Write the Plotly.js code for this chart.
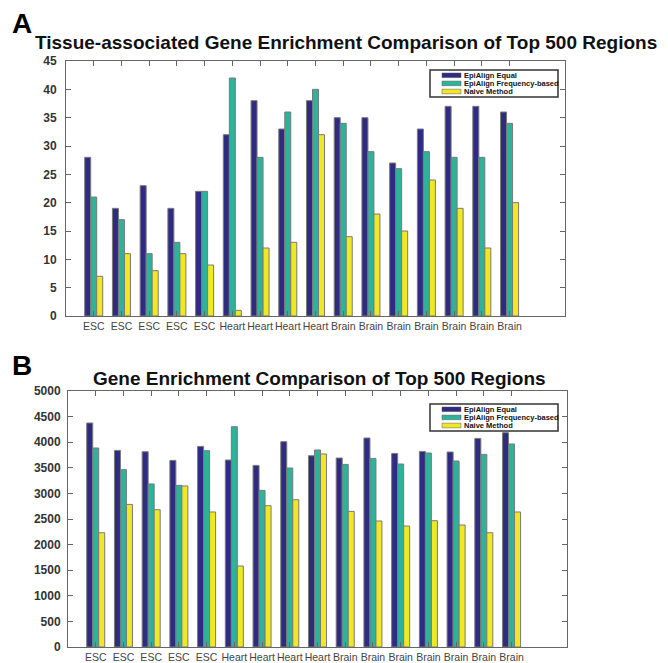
<!DOCTYPE html>
<html>
<head>
<meta charset="utf-8">
<script src="https://cdn.plot.ly/plotly-3.0.1.min.js"></script>
<style>html,body{margin:0;padding:0;background:#fff;}#chart{width:668px;height:663px;}</style>
</head>
<body>
<div id="chart"></div>
<script>
// ---- data ----
const categories = ["ESC","ESC","ESC","ESC","ESC","Heart","Heart","Heart","Heart","Brain","Brain","Brain","Brain","Brain","Brain","Brain"];
const seriesNames = ["EpiAlign Equal","EpiAlign Frequency-based","Naive Method"];

// Panel A: tissue-associated gene enrichment
const aEqual = [28,19,23,19,22,32,38,33,38,35,35,27,33,37,37,36];
const aFreq  = [21,17,11,13,22,42,28,36,40,34,29,26,29,28,28,34];
const aNaive = [7,11,8,11,9,1,12,13,32,14,18,15,24,19,12,20];

// Panel B: gene enrichment
const bEqual = [4375,3840,3814,3645,3918,3652,3547,4010,3736,3691,4082,3781,3820,3808,4074,4186];
const bFreq  = [3887,3463,3184,3157,3834,4303,3059,3496,3848,3566,3684,3574,3789,3633,3762,3965];
const bNaive = [2232,2785,2682,3145,2637,1582,2760,2877,3770,2648,2461,2363,2467,2383,2232,2637];

const titleA = "Tissue-associated Gene Enrichment Comparison of Top 500 Regions";
const titleB = "Gene Enrichment Comparison of Top 500 Regions";

// ---- styling ----
const colors = ["#2f2a82","#2db39a","#f1e824"];
const FONT = "Liberation Sans, Arial, Helvetica, sans-serif";
const pos = categories.map((c,i)=>i+1);

function makeTraces(vals, xa, ya) {
  return vals.map((v,k)=>({
    type:"bar", x:pos, y:v, name:seriesNames[k],
    xaxis:xa, yaxis:ya, showlegend:false,
    marker:{color:colors[k], line:{color:"#7a7a7a", width:1}},
    hoverinfo:"y"
  }));
}

const data = [
  ...makeTraces([aEqual,aFreq,aNaive],"x","y"),
  ...makeTraces([bEqual,bFreq,bNaive],"x2","y2")
];

const W=668, H=663;
const px = v=>v/W, py = v=>1-v/H;

function xaxis(domain, anchor){
  return {domain:domain, anchor:anchor, range:[0,18], tickmode:"array", tickvals:pos, ticktext:categories,
    tickangle:0, showline:true, linecolor:"#666", linewidth:1, mirror:"ticks", ticks:"inside", ticklen:5,
    tickcolor:"#666", showgrid:false, zeroline:false, fixedrange:true,
    tickfont:{family:FONT, size:10.5, color:"#444"}};
}
function yaxis(domain, range, dtick, anchor, standoff){
  return {domain:domain, range:range, dtick:dtick, anchor:anchor,
    showline:true, linecolor:"#666", linewidth:1, mirror:"ticks", ticks:"inside", ticklen:5,
    tickcolor:"#666", showgrid:false, zeroline:false, fixedrange:true, ticklabelstandoff:standoff,
    tickfont:{family:FONT, size:12, color:"#333", weight:"bold"}};
}

// custom compact legends (box + swatches + labels), placed in pixel coords
const shapes = [];
const annotations = [];
function addLegend(top){
  shapes.push({type:"rect", xref:"paper", yref:"paper", x0:px(430), x1:px(558), y0:py(top), y1:py(top+27),
    line:{color:"#333", width:1.5}, fillcolor:"#fff", layer:"above"});
  seriesNames.forEach((n,k)=>{
    const cy = top + 5.3 + k*8.1;
    shapes.push({type:"rect", xref:"paper", yref:"paper", x0:px(442), x1:px(461), y0:py(cy+2.3), y1:py(cy-2.3),
      line:{color:"#555", width:0.5}, fillcolor:colors[k], layer:"above"});
    annotations.push({text:n, x:px(462), y:py(cy+0.3), xref:"paper", yref:"paper", xanchor:"left", yanchor:"middle",
      showarrow:false, font:{family:FONT, size:7.5, color:"#111", weight:"bold"}});
  });
}
addLegend(70);
addLegend(404);

annotations.push(
  {text:"<b>A</b>", x:px(10), y:py(6), xref:"paper", yref:"paper", xanchor:"left", yanchor:"top", showarrow:false, font:{family:FONT, size:28, color:"#000"}},
  {text:"<b>B</b>", x:px(10), y:py(348), xref:"paper", yref:"paper", xanchor:"left", yanchor:"top", showarrow:false, font:{family:FONT, size:28, color:"#000"}},
  {text:"<b>"+titleA+"</b>", x:px(346), y:py(43), xref:"paper", yref:"paper", xanchor:"center", yanchor:"middle", showarrow:false, font:{family:FONT, size:19, color:"#111"}},
  {text:"<b>"+titleB+"</b>", x:px(319), y:py(378), xref:"paper", yref:"paper", xanchor:"center", yanchor:"middle", showarrow:false, font:{family:FONT, size:19, color:"#111"}}
);

const layout = {
  width:W, height:H, margin:{l:0,r:0,t:0,b:0},
  paper_bgcolor:"#fff", plot_bgcolor:"#fff",
  barmode:"group", bargap:0.35, bargroupgap:0,
  font:{family:FONT},
  xaxis: xaxis([px(66),px(565)],"y"),
  yaxis: yaxis([py(316),py(61)],[0,45],5,"x",6),
  xaxis2: xaxis([px(68),px(567)],"y2"),
  yaxis2: yaxis([py(647),py(391)],[0,5000],500,"x2",4),
  showlegend:false,
  shapes:shapes,
  annotations:annotations
};

Plotly.newPlot("chart", data, layout, {displayModeBar:false, staticPlot:true});
</script>
</body>
</html>
